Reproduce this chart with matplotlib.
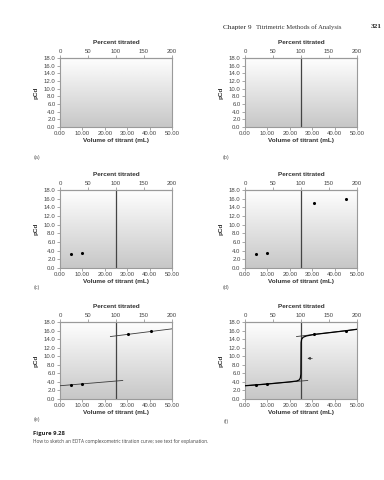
import numpy as np
import matplotlib
matplotlib.use("Agg")
import matplotlib.pyplot as plt

W, H = 384, 480
DPI = 100

# ---- data ----
vol_ticks = [0, 10, 20, 30, 40, 50]
vol_ticklabels = ["0.00", "10.00", "20.00", "30.00", "40.00", "50.00"]
pct_ticks = [0, 50, 100, 150, 200]
pcd_ticks = [0, 2, 4, 6, 8, 10, 12, 14, 16, 18]
pcd_ticklabels = ["0.0", "2.0", "4.0", "6.0", "8.0", "10.0", "12.0", "14.0", "16.0", "18.0"]
equiv_volume = 25.0

before_vol = [5.0, 10.0]
before_pcd = [3.3, 3.5]
after_pcd = [15.1, 15.85]
after_vol_d = [31.0, 45.0]
after_vol_e = [30.5, 40.5]
after_vol_f = [31.0, 45.0]

lower_line_vol = [0.0, 28.0]
lower_line_pcd = [3.10, 4.33]
upper_line_vol_e = [22.5, 50.0]
upper_line_pcd_e = [14.6, 16.4]
upper_line_vol_f = [23.0, 50.0]
upper_line_pcd_f = [14.6, 16.3]

sketch_vol = [0.0, 5.0, 10.0, 20.0, 23.0, 24.2, 24.7, 24.95, 25.0, 25.05, 25.3, 26.0, 27.5, 31.0, 45.0, 50.0]
sketch_pcd = [3.10, 3.3, 3.5, 4.0, 4.2, 4.45, 4.9, 5.8, 9.5, 13.2, 14.0, 14.45, 14.75, 15.1, 15.95, 16.3]

arrow_from = (31.3, 9.5)
arrow_to = (26.6, 9.5)

panel_labels = ["(a)", "(b)", "(c)", "(d)", "(e)", "(f)"]

plt.rcParams['font.family'] = ['Liberation Sans', 'DejaVu Sans']

fig = plt.figure(figsize=(W / DPI, H / DPI), dpi=DPI)
fig.patch.set_facecolor("white")


def rect(l, t, r, b):
    return [l / W, 1 - b / H, (r - l) / W, (b - t) / H]


cols = [(60, 172), (245, 357)]
rows = [(58, 127), (190, 268), (322, 399)]

grad = np.linspace(0, 1, 256).reshape(-1, 1)
spine_c = "#9a9a9a"
text_c = "#444444"
fs_tick = 4.3
fs_lab = 4.6


def make_axes(l, t, r, b):
    ax = fig.add_axes(rect(l, t, r, b))
    ax.imshow(grad, extent=[0, 1, 0, 1], transform=ax.transAxes, aspect="auto",
              cmap="gray", vmin=-3.6, vmax=1.02, origin="lower", zorder=0)
    ax.set_xlim(0, 50)
    ax.set_ylim(0, 18)
    for s in ax.spines.values():
        s.set_color(spine_c)
        s.set_linewidth(0.8)
    ax.set_xticks(vol_ticks)
    ax.set_xticklabels(vol_ticklabels)
    ax.set_yticks(pcd_ticks)
    ax.set_yticklabels(pcd_ticklabels)
    ax.tick_params(direction="out", length=2, width=0.6, color=spine_c,
                   labelsize=fs_tick, labelcolor=text_c, pad=1.2)
    ax.set_xlabel("Volume of titrant (mL)", fontsize=fs_lab, fontweight="bold",
                  color="#333333", labelpad=1)
    ax.set_ylabel("pCd", fontsize=fs_lab, fontweight="bold", color="#333333", labelpad=4)
    sec = ax.secondary_xaxis("top", functions=(lambda x: x * 4, lambda p: p / 4))
    sec.set_xticks(pct_ticks)
    sec.tick_params(direction="out", length=2, width=0.6, color=spine_c,
                    labelsize=fs_tick, labelcolor=text_c, pad=1.2)
    sec.spines["top"].set_color(spine_c)
    sec.set_xlabel("Percent titrated", fontsize=fs_lab, fontweight="bold",
                   color="#333333", labelpad=3)
    return ax


axes = []
for ri, (t, b) in enumerate(rows):
    for ci, (l, r) in enumerate(cols):
        axes.append(make_axes(l, t, r, b))

line_c = "#3a3a3a"
after_vols = {3: after_vol_d, 4: after_vol_e, 5: after_vol_f}
for i, ax in enumerate(axes):
    if i >= 1:
        ax.axvline(equiv_volume, color="#444444", lw=0.9, zorder=2)
    if i >= 2:
        ax.scatter(before_vol, before_pcd, s=5, color="black", marker="o", zorder=5, linewidths=0)
    if i >= 3:
        ax.scatter(after_vols[i], after_pcd, s=5, color="black", marker="o", zorder=5, linewidths=0)
    if i == 4:
        ax.plot(lower_line_vol, lower_line_pcd, color=line_c, lw=0.6, zorder=3)
        ax.plot(upper_line_vol_e, upper_line_pcd_e, color=line_c, lw=0.6, zorder=3)
    if i == 5:
        ax.plot(lower_line_vol, lower_line_pcd, color=line_c, lw=0.6, zorder=3)
        ax.plot(upper_line_vol_f, upper_line_pcd_f, color=line_c, lw=0.6, zorder=3)
        ax.plot(sketch_vol, sketch_pcd, color="black", lw=0.9, zorder=4)
        ax.annotate("", xy=arrow_to, xytext=arrow_from,
                    arrowprops=dict(arrowstyle="-|>", color="#333333", lw=0.5,
                                    mutation_scale=4))

label_pos = [(37, 157), (226, 157), (37, 288), (226, 288), (37, 420), (226, 421)]
for lab, (x, y) in zip(panel_labels, label_pos):
    fig.text(x / W, 1 - y / H, lab, fontsize=3.8, color="#555555", ha="center", va="center")

fig.text(223 / W, 1 - 27 / H, "Chapter 9", fontsize=5.2, family="Liberation Serif",
         color="#222222", ha="left", va="center")
fig.text(256 / W, 1 - 27 / H, "Titrimetric Methods of Analysis", fontsize=4.8,
         family="Liberation Serif", color="#333333", ha="left", va="center")
fig.text(376 / W, 1 - 27 / H, "321", fontsize=5.2, family="Liberation Serif",
         fontweight="bold", color="#222222", ha="center", va="center")

fig.text(33 / W, 1 - 434 / H, "Figure 9.28", fontsize=4.2, fontweight="bold",
         family="Open Sans", color="#222222", ha="left", va="center")
fig.text(33 / W, 1 - 442 / H,
         "How to sketch an EDTA complexometric titration curve; see text for explanation.",
         fontsize=3.4, family="Open Sans", color="#444444", ha="left", va="center")

fig.savefig("out.png", dpi=DPI)
